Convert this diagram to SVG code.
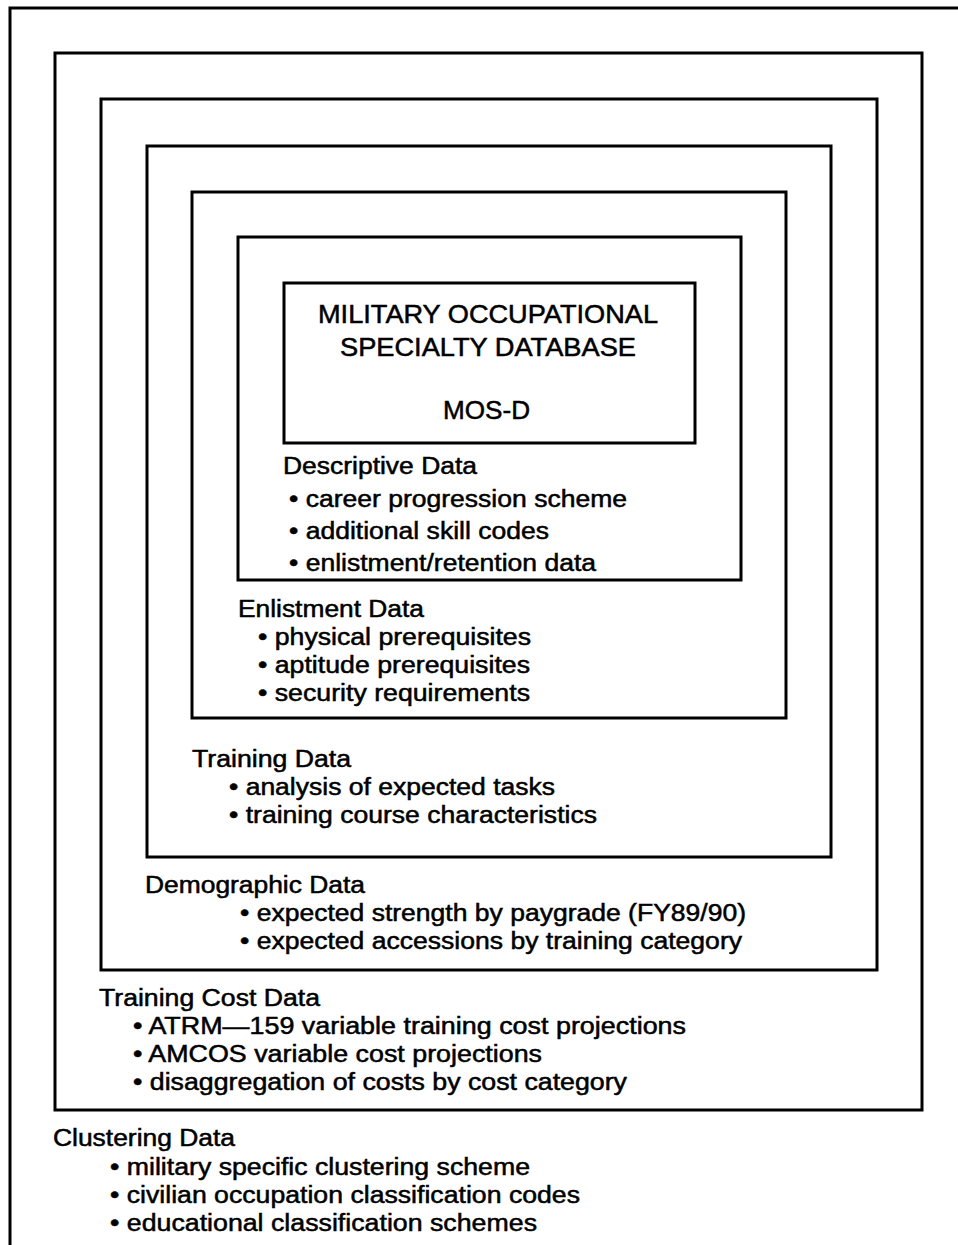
<svg xmlns="http://www.w3.org/2000/svg" width="958" height="1245" viewBox="0 0 958 1245">
<style>
.box{fill:none;stroke:#000;stroke-width:3}
.t{font-family:"Liberation Sans",Arial,Helvetica,sans-serif;font-size:23px;fill:#000;stroke:#000;stroke-width:0.5}
.h{font-family:"Liberation Sans",Arial,Helvetica,sans-serif;font-size:25px;fill:#000;stroke:#000;stroke-width:0.5}
</style>
<rect x="0" y="0" width="958" height="1245" fill="#fff"/>
<g id="clustering">
<path class="box" d="M10,1245 V8 H958"/>
<text class="t" x="53" y="1146" textLength="182" lengthAdjust="spacingAndGlyphs">Clustering Data</text>
<text class="t" x="110" y="1175" textLength="420" lengthAdjust="spacingAndGlyphs">• military specific clustering scheme</text>
<text class="t" x="110" y="1203" textLength="470" lengthAdjust="spacingAndGlyphs">• civilian occupation classification codes</text>
<text class="t" x="110" y="1231" textLength="427" lengthAdjust="spacingAndGlyphs">• educational classification schemes</text>
</g>
<g id="training-cost">
<rect class="box" x="55" y="53" width="867" height="1057"/>
<text class="t" x="99" y="1006" textLength="221" lengthAdjust="spacingAndGlyphs">Training Cost Data</text>
<text class="t" x="133" y="1034" textLength="553" lengthAdjust="spacingAndGlyphs">• ATRM—159 variable training cost projections</text>
<text class="t" x="133" y="1062" textLength="409" lengthAdjust="spacingAndGlyphs">• AMCOS variable cost projections</text>
<text class="t" x="133" y="1090" textLength="494" lengthAdjust="spacingAndGlyphs">• disaggregation of costs by cost category</text>
</g>
<g id="demographic">
<rect class="box" x="101" y="99" width="776" height="871"/>
<text class="t" x="145" y="893" textLength="220" lengthAdjust="spacingAndGlyphs">Demographic Data</text>
<text class="t" x="240" y="921" textLength="506" lengthAdjust="spacingAndGlyphs">• expected strength by paygrade (FY89/90)</text>
<text class="t" x="240" y="949" textLength="502" lengthAdjust="spacingAndGlyphs">• expected accessions by training category</text>
</g>
<g id="training">
<rect class="box" x="147" y="146" width="684" height="711"/>
<text class="t" x="192" y="767" textLength="159" lengthAdjust="spacingAndGlyphs">Training Data</text>
<text class="t" x="229" y="795" textLength="326" lengthAdjust="spacingAndGlyphs">• analysis of expected tasks</text>
<text class="t" x="229" y="823" textLength="368" lengthAdjust="spacingAndGlyphs">• training course characteristics</text>
</g>
<g id="enlistment">
<rect class="box" x="192" y="192" width="594" height="526"/>
<text class="t" x="238" y="617" textLength="186" lengthAdjust="spacingAndGlyphs">Enlistment Data</text>
<text class="t" x="258" y="645" textLength="273" lengthAdjust="spacingAndGlyphs">• physical prerequisites</text>
<text class="t" x="258" y="673" textLength="272" lengthAdjust="spacingAndGlyphs">• aptitude prerequisites</text>
<text class="t" x="258" y="701" textLength="272" lengthAdjust="spacingAndGlyphs">• security requirements</text>
</g>
<g id="descriptive">
<rect class="box" x="238" y="237" width="503" height="343"/>
<text class="t" x="283" y="474" textLength="194" lengthAdjust="spacingAndGlyphs">Descriptive Data</text>
<text class="t" x="289" y="507" textLength="338" lengthAdjust="spacingAndGlyphs">• career progression scheme</text>
<text class="t" x="289" y="539" textLength="260" lengthAdjust="spacingAndGlyphs">• additional skill codes</text>
<text class="t" x="289" y="571" textLength="307" lengthAdjust="spacingAndGlyphs">• enlistment/retention data</text>
</g>
<g id="mos-d">
<rect class="box" x="284" y="283" width="411" height="160"/>
<text class="h" x="318" y="323" textLength="340" lengthAdjust="spacingAndGlyphs">MILITARY OCCUPATIONAL</text>
<text class="h" x="340" y="356" textLength="296" lengthAdjust="spacingAndGlyphs">SPECIALTY DATABASE</text>
<text class="h" x="443" y="419" textLength="87" lengthAdjust="spacingAndGlyphs">MOS-D</text>
</g>
<g id="connectors"/>
</svg>
